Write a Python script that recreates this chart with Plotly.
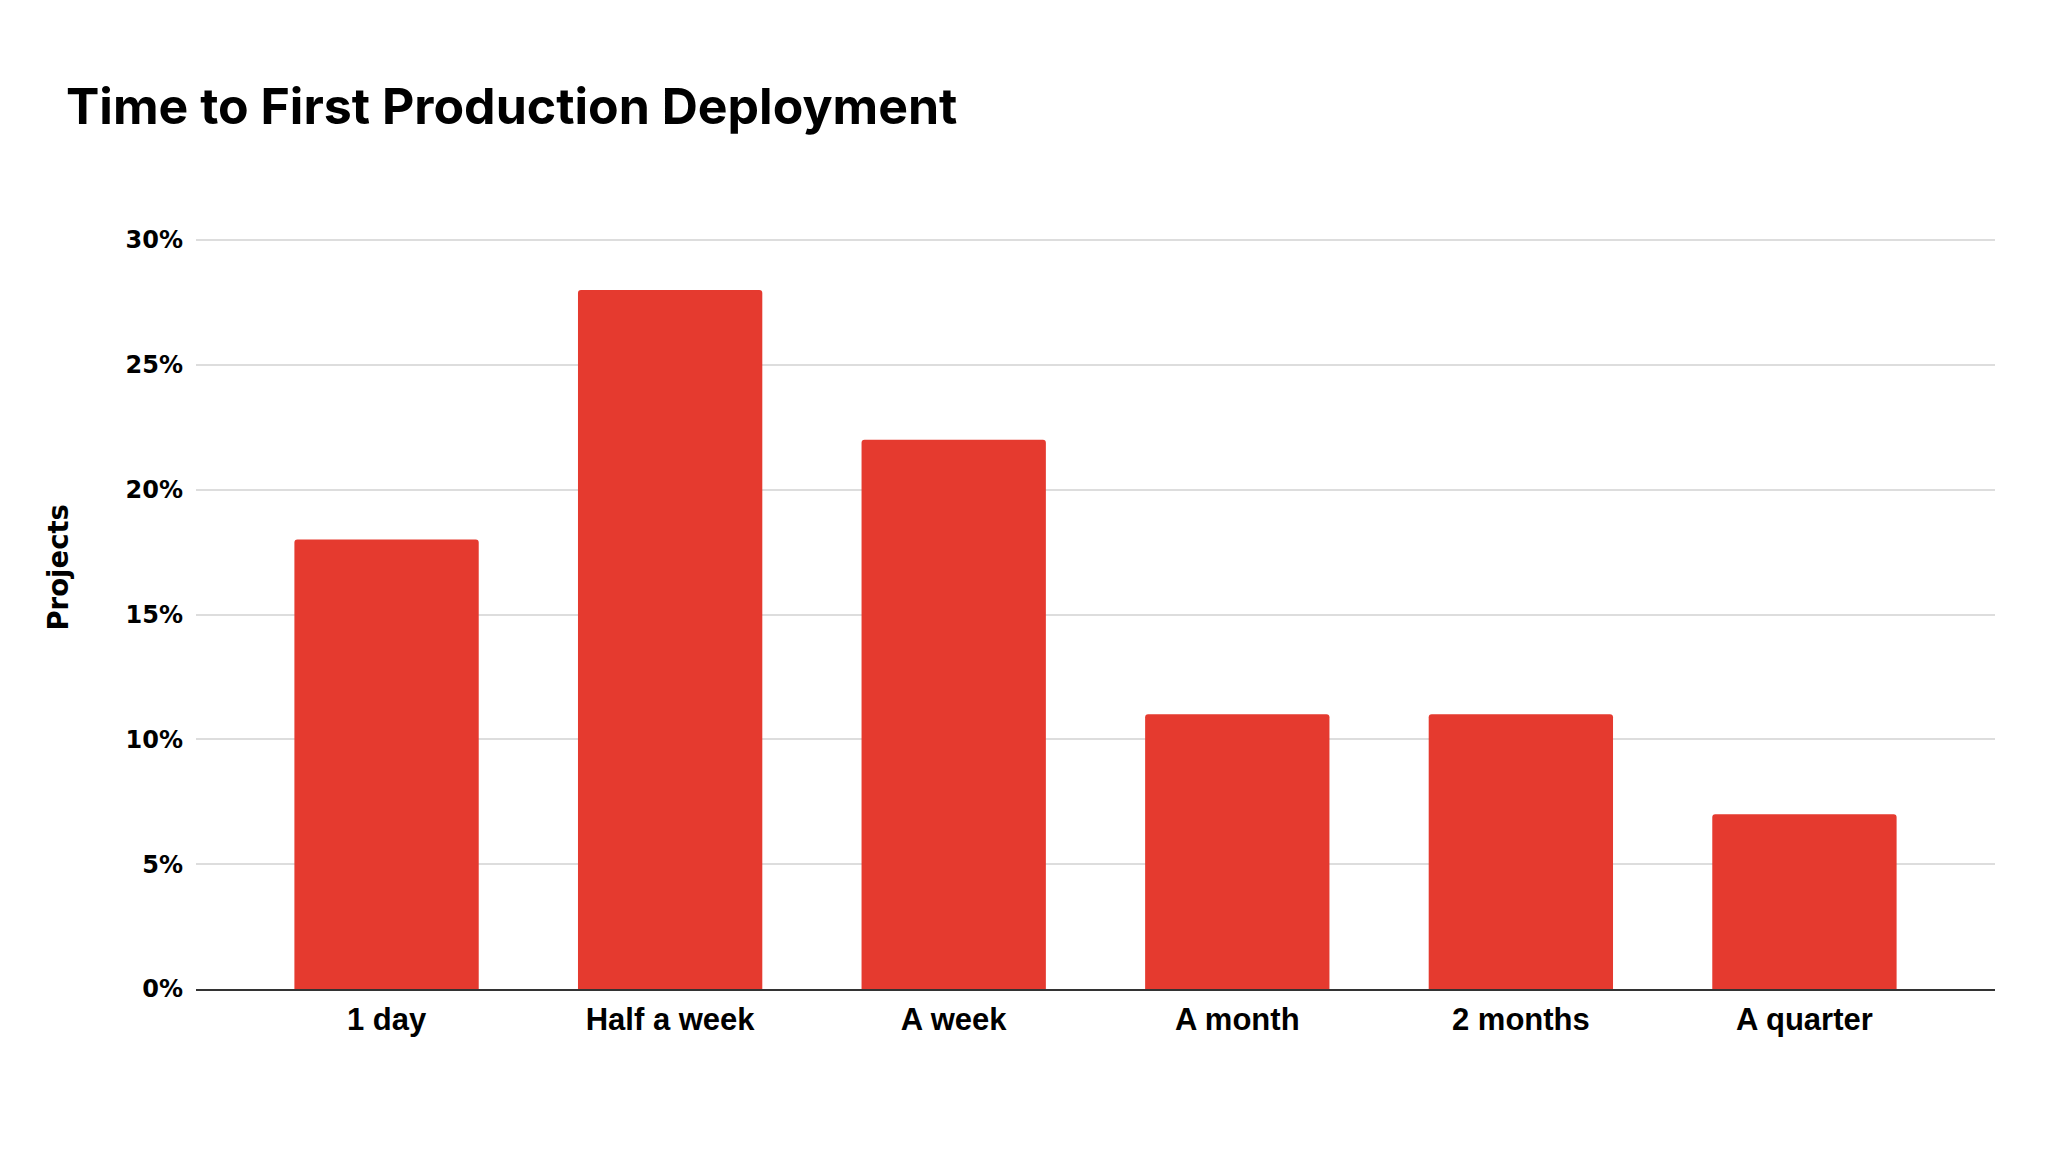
import plotly.graph_objects as go

categories = ['1 day', 'Half a week', 'A week', 'A month', '2 months', 'A quarter']
projects_pct = [18, 28, 22, 11, 11, 7]
y_ticks = [0, 5, 10, 15, 20, 25, 30]

# the page adds an 8px body margin, so the figure is pulled 8px up/left via margins
fig = go.Figure()
fig.add_trace(go.Bar(x=categories, y=projects_pct, marker=dict(color='#E53A2F', line=dict(width=0), cornerradius=3),
                     hoverinfo='x+y'))

fig.update_layout(
    width=2048, height=1152,
    paper_bgcolor='white', plot_bgcolor='white',
    margin=dict(l=188, r=61, t=230, b=171),
    bargap=0.35,
    showlegend=False,
    title=dict(text='<b>Time to First Production Deployment</b>', x=58/2048, xanchor='left', xref='container',
               y=1-98/1152, yanchor='middle', yref='container',
               font=dict(family='Inter', size=50, color='black')),
)

fig.update_xaxes(range=[-0.672, 5.672], showgrid=False, showline=True, linecolor='#333333', linewidth=2,
                 ticks='', tickfont=dict(family='Liberation Sans', size=31, color='black', weight='bold'),
                 ticklabelstandoff=2)
fig.update_yaxes(range=[0, 30.08], tickvals=y_ticks, ticktext=[f'{v}%' for v in y_ticks],
                 showgrid=True, gridcolor='#DDDDDD', gridwidth=1.5, zeroline=False, showline=False,
                 ticks='', ticklabelstandoff=12,
                 tickfont=dict(family='DejaVu Sans', size=24, color='black', weight='bold'))

fig.add_annotation(text='<b>Projects</b>', xref='paper', yref='paper', x=(50-188)/1799, y=(982-560)/752,
                   textangle=-90, showarrow=False, xanchor='center', yanchor='middle',
                   font=dict(family='DejaVu Sans', size=27.5, color='black'))

fig.write_html('out.html')
